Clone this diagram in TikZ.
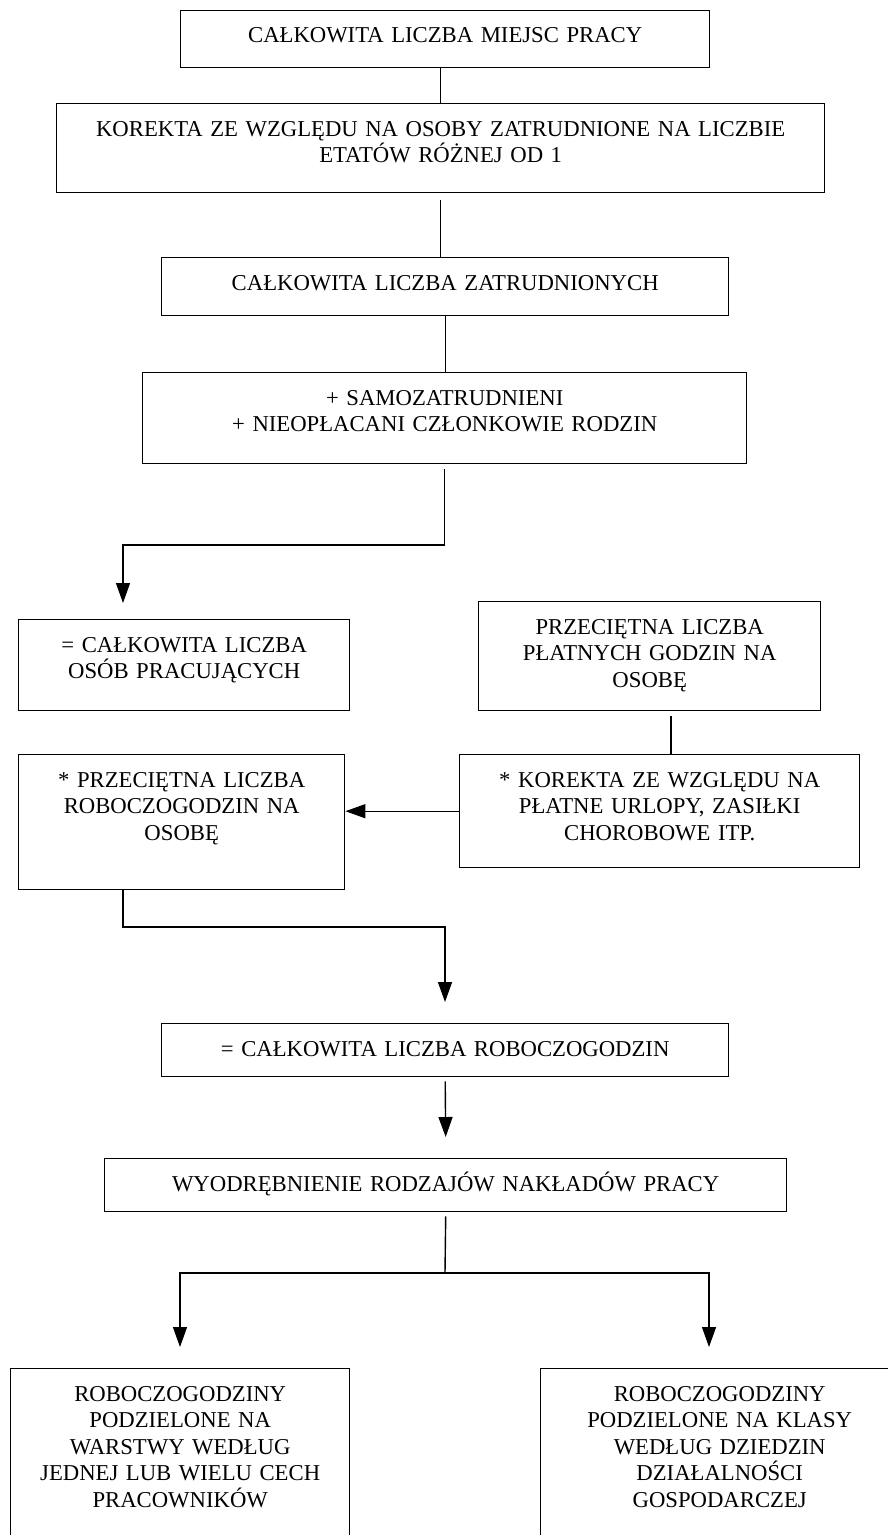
\documentclass[tikz,border=0pt]{standalone}
\usepackage{fontspec}
\setmainfont{Liberation Serif}
\usetikzlibrary{arrows.meta}

\begin{document}
\begin{tikzpicture}[x=1pt, y=-1pt,
    box/.style 2 args={draw, line width=1.4pt, anchor=north west, align=center,
      inner xsep=4pt, inner ysep=0pt, text width=#1, text height=32.5pt, text depth=#2,
      font=\fontsize{22.7}{26.5}\selectfont},
    link/.style={line width=1.4pt},
    arr/.style={line width=1.4pt, -{Triangle[length=20pt, width=14pt]}}]
    % Page frame
    \clip (0,0) rectangle (888,1535);

    % Main column
    \node[box={521pt}{25pt}] (miejsca) at (180,9.5) {CAŁKOWITA LICZBA MIEJSC PRACY};
    \node[box={760pt}{56.5pt}] (korekta) at (56,103) {KOREKTA ZE WZGLĘDU NA OSOBY ZATRUDNIONE NA LICZBIE\\ETATÓW RÓŻNEJ OD 1};
    \node[box={559pt}{25.5pt}] (zatrudnieni) at (161,257) {CAŁKOWITA LICZBA ZATRUDNIONYCH};
    \node[box={596pt}{58.5pt}] (samo) at (142,372) {+ SAMOZATRUDNIENI\\+ NIEOPŁACANI CZŁONKOWIE RODZIN};

    % Persons and hours
    \node[box={323pt}{58.5pt}] (pracujacy) at (18,619) {= CAŁKOWITA LICZBA\\OSÓB PRACUJĄCYCH};
    \node[box={334pt}{76.5pt}] (platne) at (478,601) {PRZECIĘTNA LICZBA\\PŁATNYCH GODZIN NA\\OSOBĘ};
    \node[box={392pt}{80.5pt}] (urlopy) at (459,754) {* KOREKTA ZE WZGLĘDU NA\\PŁATNE URLOPY, ZASIŁKI\\CHOROBOWE ITP.};
    \node[box={318pt}{102.5pt}] (godziny) at (18,754) {* PRZECIĘTNA LICZBA\\ROBOCZOGODZIN NA\\OSOBĘ};

    % Totals
    \node[box={559pt}{20.5pt}] (suma) at (161,1023) {= CAŁKOWITA LICZBA ROBOCZOGODZIN};
    \node[box={674pt}{20.5pt}] (rodzaje) at (104,1158) {WYODRĘBNIENIE RODZAJÓW NAKŁADÓW PRACY};
    \node[box={331pt}{167.5pt}] (warstwy) at (10,1368) {ROBOCZOGODZINY\\PODZIELONE NA\\WARSTWY WEDŁUG\\JEDNEJ LUB WIELU CECH\\PRACOWNIKÓW};
    \node[box={350pt}{167.5pt}] (klasy) at (540,1368) {ROBOCZOGODZINY\\PODZIELONE NA KLASY\\WEDŁUG DZIEDZIN\\DZIAŁALNOŚCI\\GOSPODARCZEJ};

    % Bends
    \coordinate (k1) at (123,545);
    \coordinate (k2) at (123,603);
    \coordinate (k3) at (671,716);
    \coordinate (k4) at (123,927);
    \coordinate (k5) at (445,1002);
    \coordinate (k6) at (445,1273);
    \coordinate (kl) at (180,1347);
    \coordinate (kr) at (709,1347);

    % Connectors
    \draw[link] (miejsca.south -| korekta.north) -- (korekta.north);
    \draw[link] ([yshift=-7pt]korekta.south) -- (korekta.south |- zatrudnieni.north);
    \draw[link] (zatrudnieni.south) -- (zatrudnieni.south |- samo.north);
    \draw[arr] ([yshift=-5pt]samo.south) |- (k1) -- (k2);
    \draw[link] (k3) -- (k3 |- urlopy.north);
    \draw[arr] (urlopy.west) -- (urlopy.west -| godziny.east);
    \draw[arr] (k4 |- godziny.south) -- (k4) -| (k5);
    \draw[arr] ([yshift=-4pt]suma.south) -- ([yshift=21pt]rodzaje.north);
    \draw[link] ([yshift=-4pt]rodzaje.south) -- (k6);
    \draw[arr] (k6) -| (kl);
    \draw[arr] (k6) -| (kr);
\end{tikzpicture}
\end{document}
